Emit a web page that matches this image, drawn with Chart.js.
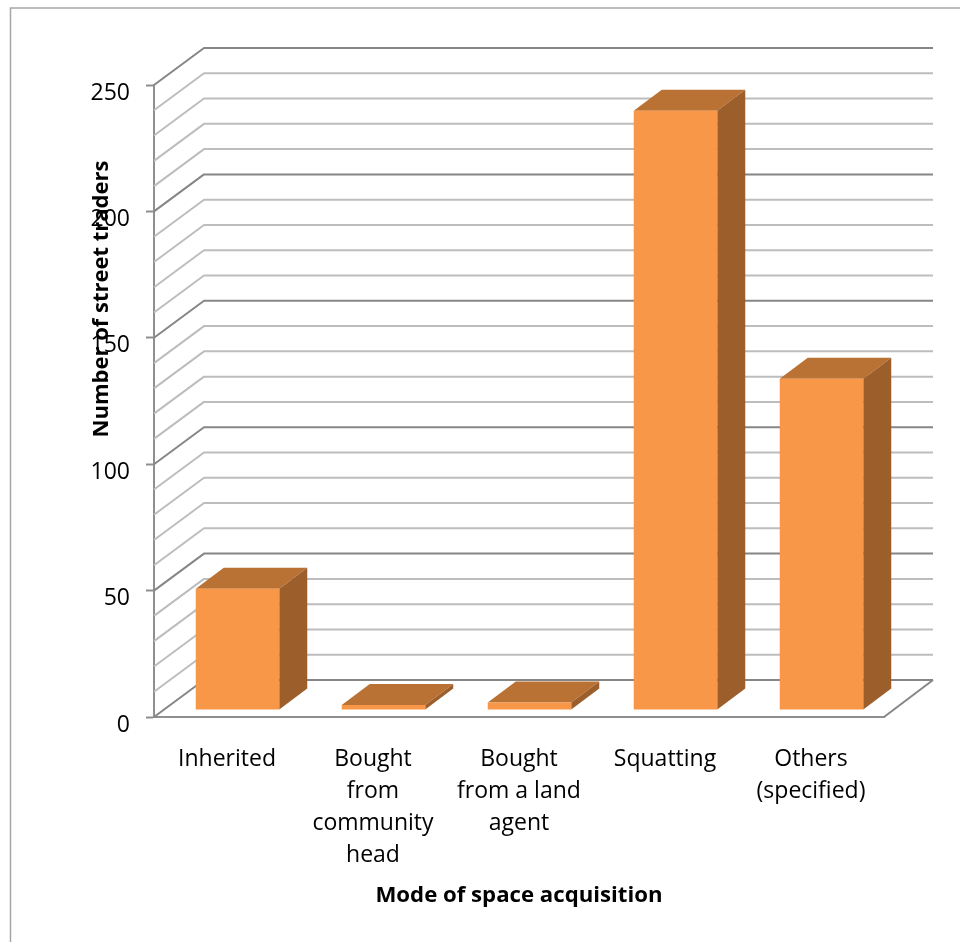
<!DOCTYPE html>
<html>
<head>
<meta charset="utf-8">
<title>Mode of space acquisition</title>
<script src="https://cdn.jsdelivr.net/npm/chart.js"></script>
<style>
  html, body { margin: 0; padding: 0; background: #fff; }
  canvas { display: block; }
</style>
</head>
<body>
<canvas id="chart" width="960" height="942"></canvas>
<script>
// Street traders by the way they acquired their trading space
const categories = ['Inherited', ['Bought', 'from', 'community', 'head'], ['Bought', 'from a land', 'agent'], 'Squatting', ['Others', '(specified)']];
const traders = [48, 2, 3, 237, 131];
const xTitle = 'Mode of space acquisition';
const yTitle = 'Number of street traders';

// Pseudo-3D projection: wall depth and the bar's own depth, in pixels
const wallDepth = { x: 50, y: -37 };
const barDepth = { x: 28, y: -21 };
const barInset = { x: 10.5, y: -7 };

const FONT = '"Open Sans", "Noto Sans", sans-serif';
const FRONT = '#F99748', TOP = '#B97234', SIDE = '#9C5E2A';
const GRID_LIGHT = '#BDBDBD', GRID_DARK = '#868686', AXIS = '#8F8F8F', FRAME = '#A6A6A6';

// Chart border; only its top and left edges fall inside the canvas
const framePlugin = {
  id: 'frame',
  beforeDraw(chart) {
    const c = chart.ctx;
    c.save();
    c.strokeStyle = FRAME;
    c.lineWidth = 1.5;
    c.beginPath();
    c.moveTo(10.5, 960);
    c.lineTo(10.5, 8);
    c.lineTo(960, 8);
    c.stroke();
    c.restore();
  }
};

// Back wall and side wall gridlines plus the floor outline, from the y scale's ticks
const wallPlugin = {
  id: 'walls',
  beforeDatasetsDraw(chart) {
    const c = chart.ctx, y = chart.scales.y, a = chart.chartArea;
    c.save();
    c.lineJoin = 'round';
    y.ticks.forEach(t => {
      const py = y.getPixelForValue(t.value);
      const major = t.value % 50 === 0;
      c.strokeStyle = major ? GRID_DARK : GRID_LIGHT;
      c.lineWidth = 2;
      c.beginPath();
      c.moveTo(a.left, py);
      c.lineTo(a.left + wallDepth.x, py + wallDepth.y);
      c.lineTo(a.right + wallDepth.x - 1, py + wallDepth.y);
      c.stroke();
    });
    c.strokeStyle = GRID_DARK;
    c.lineWidth = 2;
    c.beginPath();
    c.moveTo(a.right, a.bottom);
    c.lineTo(a.right + wallDepth.x - 1, a.bottom + wallDepth.y);
    c.stroke();
    c.restore();
  }
};

// Extrudes each bar: top and side faces first, then the library's front face on the inset plane
const barPlugin = {
  id: 'bars3d',
  beforeDatasetDraw(chart, args) {
    const c = chart.ctx;
    c.save();
    c.translate(barInset.x, barInset.y);
    args.meta.data.forEach(bar => {
      const p = bar.getProps(['x', 'y', 'base', 'width'], true);
      const l = p.x - p.width / 2, r = p.x + p.width / 2;
      const dx = barDepth.x, dy = barDepth.y;
      c.fillStyle = TOP;
      c.beginPath();
      c.moveTo(l, p.y);
      c.lineTo(l + dx, p.y + dy);
      c.lineTo(r + dx, p.y + dy);
      c.lineTo(r, p.y);
      c.closePath();
      c.fill();
      c.fillStyle = SIDE;
      c.beginPath();
      c.moveTo(r, p.y);
      c.lineTo(r + dx, p.y + dy);
      c.lineTo(r + dx, p.base + dy);
      c.lineTo(r, p.base);
      c.closePath();
      c.fill();
    });
  },
  afterDatasetDraw(chart) {
    chart.ctx.restore();
  }
};

// Vertical axis title, placed over the tick labels
const yTitlePlugin = {
  id: 'yTitle',
  afterDraw(chart) {
    const c = chart.ctx;
    c.save();
    c.translate(102, 299);
    c.rotate(-Math.PI / 2);
    c.font = 'bold 22px ' + FONT;
    c.fillStyle = '#000';
    c.textAlign = 'center';
    c.textBaseline = 'middle';
    c.fillText(yTitle, 0, 0);
    c.restore();
  }
};

new Chart(document.getElementById('chart'), {
  type: 'bar',
  data: {
    labels: categories,
    datasets: [{
      label: yTitle,
      data: traders,
      backgroundColor: FRONT,
      borderWidth: 0,
      barPercentage: 0.572,
      categoryPercentage: 1
    }]
  },
  plugins: [framePlugin, wallPlugin, barPlugin, yTitlePlugin],
  options: {
    responsive: false,
    animation: false,
    layout: { padding: { left: 0, top: 85, right: 76, bottom: 0 } },
    plugins: { legend: { display: false }, tooltip: { enabled: false } },
    scales: {
      x: {
        afterFit(scale) { scale.height = 225; },
        grid: { drawOnChartArea: false, drawTicks: false },
        border: { color: AXIS, width: 2 },
        ticks: {
          autoSkip: false,
          maxRotation: 0,
          minRotation: 0,
          padding: 26,
          color: '#000',
          font: { family: FONT, size: 23, lineHeight: 32 / 23 }
        },
        title: {
          display: true,
          text: xTitle,
          color: '#000',
          font: { family: FONT, size: 22.2, weight: 'bold', lineHeight: 1.2 },
          padding: { top: 0, bottom: 33 }
        }
      },
      y: {
        min: 0,
        max: 250,
        afterFit(scale) { scale.width = 154; },
        grid: {
          drawOnChartArea: false,
          drawTicks: true,
          tickLength: 8,
          tickWidth: 2,
          tickColor: ctx => (ctx.tick && ctx.tick.value % 50 === 0 ? AXIS : 'rgba(0,0,0,0)')
        },
        border: { color: AXIS, width: 2 },
        ticks: {
          stepSize: 10,
          autoSkip: false,
          padding: 16,
          labelOffset: 8,
          color: '#000',
          font: { family: FONT, size: 23 },
          callback: v => (v % 50 === 0 ? String(v) : '')
        }
      }
    }
  }
});
</script>
</body>
</html>
